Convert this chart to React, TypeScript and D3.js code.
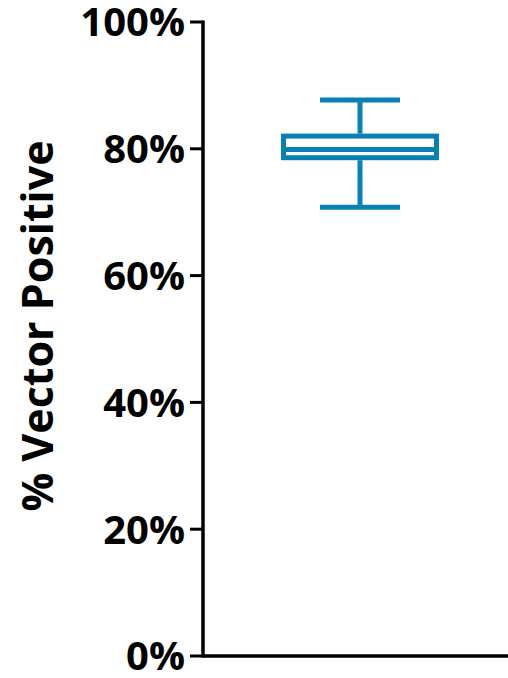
import React from "react";
import * as d3 from "d3";

const categories = ["Vector"];
const whiskerLow = [0.708];
const q1 = [0.782];
const median = [0.799];
const q3 = [0.824];
const whiskerHigh = [0.877];
const yTicks = [0, 0.2, 0.4, 0.6, 0.8, 1.0];

const W = 508;
const H = 678;
const left = 203;
const top = 22;
const bottom = 656;
const color = "#0880b2";
const font = "'Open Sans', sans-serif";

export default function App() {
  const y = d3.scaleLinear().domain([0, 1]).range([bottom, top]);
  const x = d3.scaleBand().domain(categories).range([left, 517]);
  const fmt = d3.format(".0%");

  return (
    <svg
      width={W}
      height={H}
      style={{ position: "absolute", left: 0, top: 0 }}
      fontFamily={font}
    >
      {/* y axis */}
      <line x1={left} x2={left} y1={top - 1.5} y2={bottom + 1.5} stroke="#000" strokeWidth={3.5} />
      {yTicks.map((t) => (
        <g key={t}>
          <line x1={left - 13} x2={left} y1={y(t)} y2={y(t)} stroke="#000" strokeWidth={3} />
          <text
            x={185}
            y={y(t)}
            dy="0.36em"
            textAnchor="end"
            fontSize={40}
            fontWeight="bold"
            fill="#000"
          >
            {fmt(t)}
          </text>
        </g>
      ))}
      {/* x axis */}
      <line x1={left} x2={W} y1={bottom} y2={bottom} stroke="#000" strokeWidth={3.5} />
      <text
        transform={`translate(38,326) rotate(-90)`}
        textAnchor="middle"
        dy="0.36em"
        fontSize={43}
        fontWeight="bold"
        fill="#000"
      >
        % Vector Positive
      </text>
      {categories.map((c, i) => {
        const cx = (x(c) ?? 0) + x.bandwidth() / 2;
        const bw = 79;
        const cw = 40;
        return (
          <g key={c} stroke={color} strokeWidth={5} fill="none">
            <line x1={cx} x2={cx} y1={y(whiskerHigh[i])} y2={y(q3[i])} />
            <line x1={cx} x2={cx} y1={y(q1[i])} y2={y(whiskerLow[i])} />
            <line x1={cx - cw} x2={cx + cw} y1={y(whiskerHigh[i])} y2={y(whiskerHigh[i])} />
            <line x1={cx - cw} x2={cx + cw} y1={y(whiskerLow[i])} y2={y(whiskerLow[i])} />
            <rect
              x={cx - bw + 2.5}
              width={2 * bw - 5}
              y={y(q3[i]) + 2.5}
              height={y(q1[i]) - y(q3[i]) - 5}
            />
            <line x1={cx - bw + 2.5} x2={cx + bw - 2.5} y1={y(median[i])} y2={y(median[i])} />
          </g>
        );
      })}
    </svg>
  );
}
